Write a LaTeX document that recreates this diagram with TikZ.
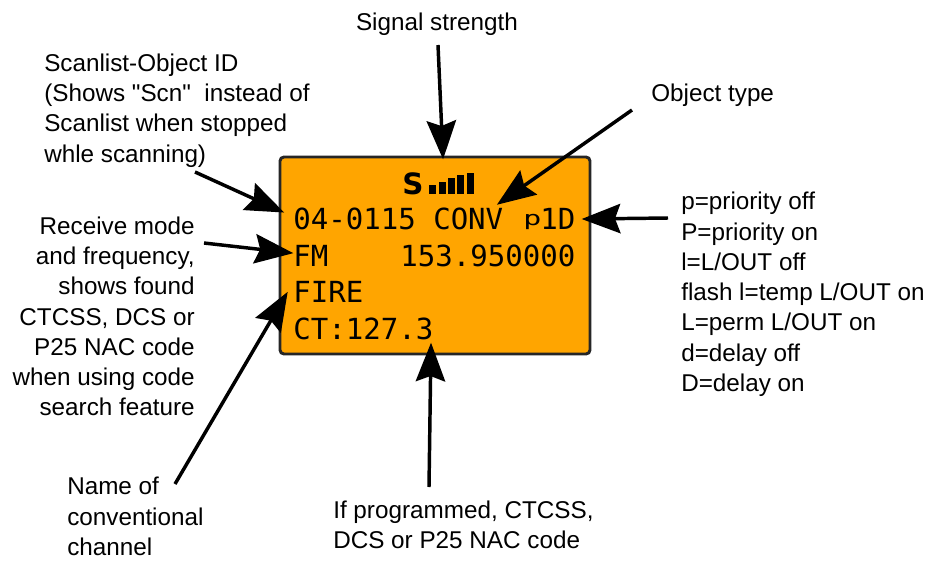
\documentclass[tikz,border=0pt]{standalone}
\usepackage{fontspec}
\newfontfamily\notefont{Liberation Sans}
\newfontfamily\lcdfont{DejaVu Sans Mono}
\newfontfamily\lcdwide[FakeStretch=1.5]{DejaVu Sans Mono}
\newfontfamily\sigfont{DejaVu Sans}
\usetikzlibrary{arrows.meta}
\definecolor{lcdorange}{RGB}{255,165,0}
\tikzset{
  note/.style={inner sep=0pt, font=\notefont\fontsize{18.2pt}{22.7pt}\selectfont},
  lcdtext/.style={inner sep=0pt, anchor=base west, font=\lcdfont\fontsize{21.8pt}{24pt}\selectfont},
  callout/.style={line width=2.6pt, -{Stealth[length=29pt, width=22pt, inset=4pt]}, shorten >=-1pt},
  bar/.style={fill=black, draw=none}
}
\begin{document}
\begin{tikzpicture}[x=0.75pt, y=-0.75pt]
\useasboundingbox (0,0) rectangle (929,561);

%Display
\filldraw[fill=lcdorange, draw=black!85, line width=2.2pt, rounded corners=3pt] (280,157) rectangle (590,354);

%Signal
\node[inner sep=0pt, anchor=base, font=\sigfont\bfseries\fontsize{22pt}{24pt}\selectfont] (s) at (413,194) {S};
\fill[bar] (429,185) rectangle (436,194);
\fill[bar] (439,182) rectangle (446,194);
\fill[bar] (448,178) rectangle (455,194);
\fill[bar] (457,175) rectangle (464,194);
\fill[bar] (467,173) rectangle (474,194);

%Lines
\node[lcdtext] (id) at (293,229) {04-0115 CONV};
\node[lcdtext, font=\lcdwide\fontsize{15pt}{18pt}\selectfont] (prio) at (523,225) {p};
\node[lcdtext] (flags) at (540,229) {1D};
\node[lcdtext] (mode) at (293,266) {FM};
\node[lcdtext] (freq) at (400,266) {153.950000};
\node[lcdtext] (name) at (293,302) {FIRE};
\node[lcdtext] (code) at (293,339) {CT:127.3};

%Notes
\node[note, anchor=base] (strength) at (437,30) {Signal strength};
\node[note, anchor=base west] (type) at (651,101) {Object type};
\node[note, anchor=north west, align=left] (scan) at (44,53.5) {Scanlist-Object ID\\(Shows "Scn"\ \ instead of\\Scanlist when stopped\\whle scanning)};
\node[note, anchor=north east, align=right] (recv) at (195,216.5) {Receive mode\\and frequency,\\shows found\\CTCSS, DCS or\\P25 NAC code\\when using code\\search feature};
\node[note, anchor=north west, align=left] (flaglist) at (681,192) {p=priority off\\P=priority on\\l=L/OUT off\\flash l=temp L/OUT on\\L=perm L/OUT on\\d=delay off\\D=delay on};
\node[note, anchor=north west, align=left, text depth=0pt] (chan) at (67,477) {Name of\\conventional\\channel};
\node[note, anchor=north west, align=left] (prog) at (333,500.5) {If programmed, CTCSS,\\DCS or P25 NAC code};

%Aux
\path (438,45) coordinate (a1);
\path (443,158) coordinate (b1);
\path (632,110) coordinate (a2);
\path (498,204) coordinate (b2);
\path (668,218) coordinate (a3);
\path (583,219) coordinate (b3);
\path (195,172) coordinate (a4);
\path (283,212) coordinate (b4);
\path (204,243) coordinate (a5);
\path (292,253) coordinate (b5);
\path (175,484) coordinate (a6);
\path (287,293) coordinate (b6);
\path (429,487) coordinate (a7);
\path (431,344) coordinate (b7);

%Arrows
\draw[callout] (a1) -- (b1);
\draw[callout] (a2) -- (b2);
\draw[callout] (a3) -- (b3);
\draw[callout] (a4) -- (b4);
\draw[callout] (a5) -- (b5);
\draw[callout] (a6) -- (b6);
\draw[callout] (a7) -- (b7);

\end{tikzpicture}
\end{document}
